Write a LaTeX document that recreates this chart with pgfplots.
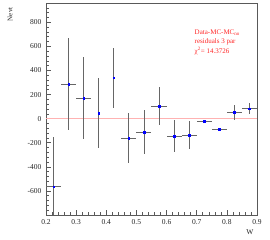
\documentclass[border=0pt]{standalone}
\usepackage{pgfplots}
\pgfplotsset{compat=1.18}
\usepackage{fontspec}
\setmainfont{Liberation Serif}
\begin{document}
\begin{tikzpicture}
\path[use as bounding box] (-46pt,-25pt) rectangle (224pt,215pt);
\begin{axis}[
  at={(0pt,0pt)}, anchor=south west,
  scale only axis, width=211pt, height=212pt,
  xmin=0.2, xmax=0.9, ymin=-800, ymax=960,
  xtick={0.2,0.3,0.4,0.5,0.6,0.7,0.8,0.9},
  xticklabels={0.2,0.3,0.4,0.5,0.6,0.7,0.8,0.9},
  ytick={-800,-600,-400,-200,0,200,400,600,800},
  yticklabels={,-600,-400,-200,0,200,400,600,800},
  minor xtick={0.22,0.24,...,0.89},
  minor ytick={-760,-720,...,959},
  tick pos=left, tick align=inside,
  major tick length=5pt, minor tick length=2.5pt,
  every tick/.style={gray!70!black, line width=0.5pt},
  axis line style={gray!70!black, line width=0.8pt},
  tick label style={font=\fontsize{7.5}{8}\selectfont, text=black!85},
  /pgf/number format/assume math mode=true,
  xticklabel style={yshift=-1pt},
  yticklabel style={xshift=-1pt},
  clip=true,
]
\addplot[red!30, line width=1.5pt, forget plot] coordinates {(0.2,0) (0.9,0)};
\addplot[only marks, mark=square*, mark size=0.8pt, blue, mark options={draw=blue, fill=blue},
  error bars/.cd, x dir=both, x explicit, y dir=both, y explicit,
  error mark=none, error bar style={gray!80!black, line width=0.8pt}]
  table[x=x, y=y, x error=ex, y error=ey] {
  x      y     ex     ey
  0.225  -565  0.025  410
  0.275  286   0.025  380
  0.325  170   0.025  340
  0.375  45    0      290
  0.425  340   0      250
  0.475  -160  0.025  205
  0.525  -112  0.025  180
  0.575  105   0.025  155
  0.625  -145  0.025  130
  0.675  -138  0.025  115
  0.725  -20   0.025  6
  0.775  -88   0.025  6
  0.825  52    0.025  62
  0.875  82    0.025  45
  };
\node[anchor=north west, align=left, text=red!85, font=\fontsize{7}{9.5}\selectfont, inner sep=0pt]
  at (rel axis cs:0.704,0.875) {Data-MC-MC\textsubscript{no}\\residuals 3 par\\χ\textsuperscript{2}= 14.3726};
\end{axis}
\node[rotate=90, anchor=east, font=\fontsize{7}{8}\selectfont, text=black!85] at (-36pt,211pt) {Nevt};
\node[anchor=north east, font=\fontsize{7.5}{8}\selectfont, text=black!85] at (211pt,-11pt) {W};
\end{tikzpicture}
\end{document}
